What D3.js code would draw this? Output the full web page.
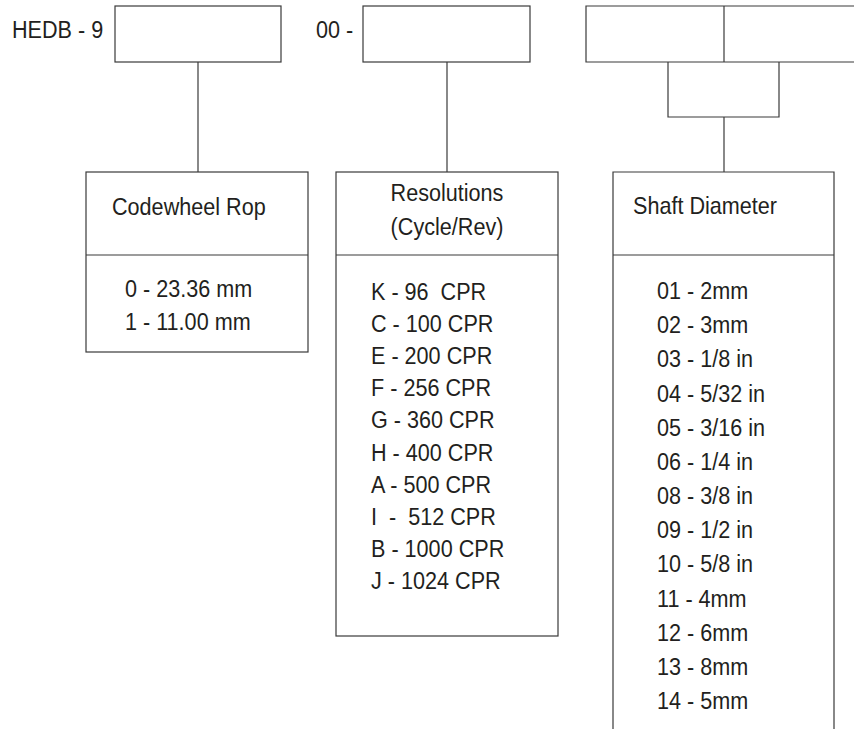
<!DOCTYPE html>
<html>
<head>
<meta charset="utf-8">
<script src="https://cdn.jsdelivr.net/npm/d3@7"></script>
<style>
  html, body { margin: 0; padding: 0; background: #fff; }
  svg text { font-family: "Liberation Sans", Arial, sans-serif; fill: #231f20; font-size: 24px; }
</style>
</head>
<body>
<svg id="chart" width="854" height="729"></svg>
<script>
// part number pieces
const partPrefix = "HEDB - 9";
const partMiddle = "00 -";

// option groups
const codewheelTitle = ["Codewheel Rop"];
const codewheelOptions = ["0 - 23.36 mm", "1 - 11.00 mm"];

const resolutionTitle = ["Resolutions", "(Cycle/Rev)"];
const resolutionOptions = [
  "K - 96\u00a0\u00a0CPR", "C - 100 CPR", "E - 200 CPR", "F - 256 CPR", "G - 360 CPR",
  "H - 400 CPR", "A - 500 CPR", "I\u00a0\u00a0-\u00a0\u00a0512 CPR", "B - 1000 CPR", "J - 1024 CPR"
];

const shaftTitle = ["Shaft Diameter"];
const shaftOptions = [
  "01 - 2mm", "02 - 3mm", "03 - 1/8 in", "04 - 5/32 in", "05 - 3/16 in", "06 - 1/4 in",
  "08 - 3/8 in", "09 - 1/2 in", "10 - 5/8 in", "11 - 4mm", "12 - 6mm", "13 - 8mm", "14 - 5mm"
];

const svg = d3.select("#chart");
const ink = "#3a3a3a";
const squeeze = 0.9; // condensed look
const g = svg.append("g").attr("fill", "none").attr("stroke", ink).attr("stroke-width", 1.2);

const line = d3.line();
const seg = (pts) => g.append("path").attr("d", line(pts));
const place = (x, y) => `translate(${x},${y}) scale(${squeeze},1)`;

// top code boxes
g.append("rect").attr("x", 115).attr("y", 6).attr("width", 166).attr("height", 56);
g.append("rect").attr("x", 363).attr("y", 6).attr("width", 167).attr("height", 56);
seg([[860, 6], [586, 6], [586, 62], [860, 62]]);
seg([[724, 6], [724, 62]]);

svg.append("text").attr("transform", place(12, 38)).text(partPrefix);
svg.append("text").attr("transform", place(316, 38)).text(partMiddle);

// connectors
seg([[198, 62], [198, 172]]);
seg([[447, 62], [447, 172]]);
seg([[668, 62], [668, 117], [779, 117], [779, 62]]);
seg([[724, 117], [724, 172]]);

// lower boxes
function optionBox(x0, x1, bottom, divider, title, titleX, titleYs, anchor, opts, optX, rowRange) {
  if (bottom != null) {
    g.append("rect").attr("x", x0).attr("y", 172).attr("width", x1 - x0).attr("height", bottom - 172);
  } else {
    seg([[x0, 740], [x0, 172], [x1, 172], [x1, 740]]);
  }
  seg([[x0, divider], [x1, divider]]);

  svg.append("g").selectAll("text").data(title).join("text")
    .attr("transform", (d, i) => place(titleX, titleYs[i]))
    .attr("text-anchor", anchor).text(d => d);

  const row = d3.scalePoint().domain(opts).range(rowRange);
  svg.append("g").selectAll("text").data(opts).join("text")
    .attr("transform", d => place(optX, row(d))).text(d => d);
}

optionBox(86, 308, 352, 255, codewheelTitle, 112, [215], "start", codewheelOptions, 125, [297, 330]);
optionBox(336, 558, 636, 255, resolutionTitle, 447, [201, 235], "middle", resolutionOptions, 371, [300, 589]);
optionBox(613, 834, null, 255, shaftTitle, 633, [214], "start", shaftOptions, 657, [299, 709]);
</script>
</body>
</html>
